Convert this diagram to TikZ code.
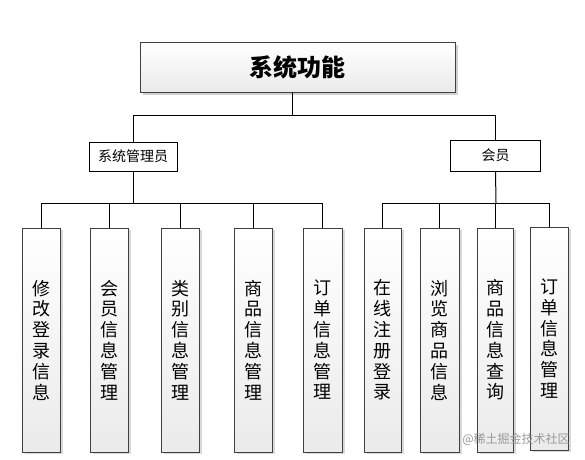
\documentclass[tikz,border=0pt]{standalone}
\usepackage{fontspec}
\newfontfamily\cjk{Noto Sans CJK SC}
\usetikzlibrary{shadows}
\tikzset{
  conn/.style={draw=black, line width=1pt},
  topbox/.style={draw=black!75, line width=0.9pt, top color=white, bottom color=black!8,
    drop shadow={shadow xshift=3pt, shadow yshift=-3pt, opacity=0.18, fill=black},
    inner sep=0pt, font=\cjk\fontsize{24}{28}\selectfont\bfseries},
  midbox/.style={draw=black, line width=0.9pt, fill=white, inner sep=0pt,
    font=\cjk\fontsize{14}{16}\selectfont},
  leafbox/.style={draw=black!75, line width=0.9pt, top color=white, bottom color=black!8,
    drop shadow={shadow xshift=3pt, shadow yshift=-2pt, opacity=0.15, fill=black},
    inner sep=0pt, minimum width=38pt, align=center,
    font=\cjk\fontsize{18}{20.8}\selectfont},
}
\begin{document}
\begin{tikzpicture}[x=1pt, y=-1pt]
\useasboundingbox (0,0) rectangle (585,459);
\fill[white] (0,0) rectangle (585,459);
% top
\node[topbox, minimum width=315pt, minimum height=50pt] (top) at (297.5,67) {系统功能};
% mid
\node[midbox, minimum width=88pt, minimum height=29pt] (adm) at (133,156.5) {系统管理员};
\node[midbox, minimum width=90pt, minimum height=31pt] (mem) at (495.5,155.5) {会员};
% leaves
\node[leafbox, minimum height=224pt] (l1) at (41,340) {修\\改\\登\\录\\信\\息};
\node[leafbox, minimum height=224pt] (l2) at (109,340) {会\\员\\信\\息\\管\\理};
\node[leafbox, minimum height=224pt] (l3) at (180,340) {类\\别\\信\\息\\管\\理};
\node[leafbox, minimum height=224pt] (l4) at (253,340) {商\\品\\信\\息\\管\\理};
\node[leafbox, minimum height=224pt, minimum width=39pt] (l5) at (322.5,340) {订\\单\\信\\息\\管\\理};
\node[leafbox, minimum height=224pt, minimum width=37pt] (r1) at (382.5,340) {在\\线\\注\\册\\登\\录};
\node[leafbox, minimum height=224pt, minimum width=39pt] (r2) at (439.5,340) {浏\\览\\商\\品\\信\\息};
\node[leafbox, minimum height=224pt, minimum width=36pt] (r3) at (495,340) {商\\品\\信\\息\\查\\询};
\node[leafbox, minimum height=223pt] (r4) at (549,338.5) {订\\单\\信\\息\\管\\理};
% junction coordinates
\coordinate (j0) at (292,115);
\coordinate (ja) at (133,203);
\coordinate (jm) at (496,203);
% connectors
\draw[conn] (j0 |- top.south) -- (j0);
\draw[conn] (adm.north |- j0) -- (mem.north |- j0);
\draw[conn] (adm.north |- j0) -- (adm.north);
\draw[conn] (mem.north |- j0) -- (mem.north);
\draw[conn] (adm.south) -- (ja);
\draw[conn] (mem.south) -- (jm);
\draw[conn] (l1.north |- ja) -- (l5.north |- ja);
\draw[conn] (r1.north |- jm) -- (r4.north |- jm);
\foreach \n in {l1,l2,l3,l4,l5}{\draw[conn] (\n.north |- ja) -- (\n.north);}
\foreach \n in {r1,r2,r3,r4}{\draw[conn] (\n.north |- jm) -- (\n.north);}
% watermark
\node[text=black!40, font=\cjk\fontsize{12}{14}\selectfont, inner sep=0pt] (wm) at (516,439) {@稀土掘金技术社区};
\end{tikzpicture}
\end{document}
